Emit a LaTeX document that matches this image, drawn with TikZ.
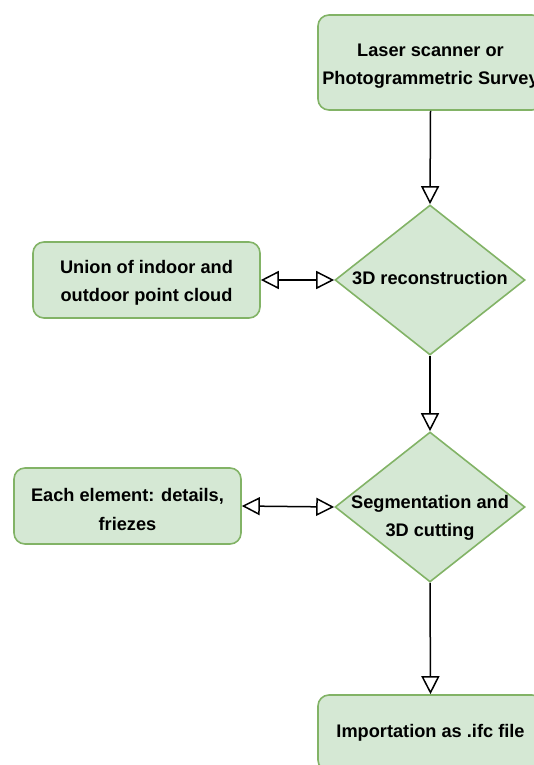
\documentclass[tikz,border=0pt]{standalone}
\usepackage{fontspec}
\setmainfont{Liberation Sans}
\usetikzlibrary{shapes.geometric,arrows.meta}
\definecolor{gfill}{HTML}{D5E8D4}
\definecolor{gline}{HTML}{82B366}
\tikzset{
  txt/.style={font=\bfseries\fontsize{18.2}{28.5}\selectfont, align=center, text=black, inner sep=0pt},
  rbox/.style={draw=gline, fill=gfill, line width=1.6pt, rounded corners=11pt, minimum width=227pt, minimum height=76pt, inner sep=0pt},
  dia/.style={diamond, draw=gline, fill=gfill, line width=1.6pt, minimum width=190pt, minimum height=150pt, inner sep=0pt},
  conn/.style={line width=1.5pt, -{Triangle[open, length=18pt, width=18pt, line width=1.5pt]}},
  dconn/.style={line width=1.5pt, {Triangle[open, length=18pt, width=18pt, line width=1.5pt]}-{Triangle[open, length=18pt, width=18pt, line width=1.5pt]}}
}
\begin{document}
\begin{tikzpicture}[x=1pt,y=-1pt]
\useasboundingbox (0,0) rectangle (533,765);
\node[rbox, minimum height=95pt, minimum width=225pt] (top) at (430.5,62.5) {};
\node[txt] (topt) at (430.5,66) {Laser scanner or\\Photogrammetric Survey};
\node[dia] (d1) at (430,280) {};
\node[txt] (d1t) at (430,278) {3D reconstruction};
\node[dia] (d2) at (430,507) {};
\node[txt] (d2t) at (430,518) {Segmentation and\\3D cutting};
\node[rbox] (l1) at (146.5,280) {};
\node[txt] (l1t) at (146.5,283) {Union of indoor and\\outdoor point cloud};
\node[rbox] (l2) at (127.5,506) {};
\node[txt] (l2t) at (127.5,509.5) {Each element: details,\\friezes};
\node[rbox, minimum width=225pt] (bot) at (430.5,733) {};
\node[txt] (bott) at (430.5,733) {Importation as .ifc file};
\draw[conn] (top.south) -- (d1.north);
\draw[conn] (d1.south) -- (d2.north);
\draw[conn] (d2.south) -- (bot.north);
\draw[dconn] (l1.east) -- (d1.west);
\draw[dconn] (l2.east) -- (d2.west);
\end{tikzpicture}
\end{document}
